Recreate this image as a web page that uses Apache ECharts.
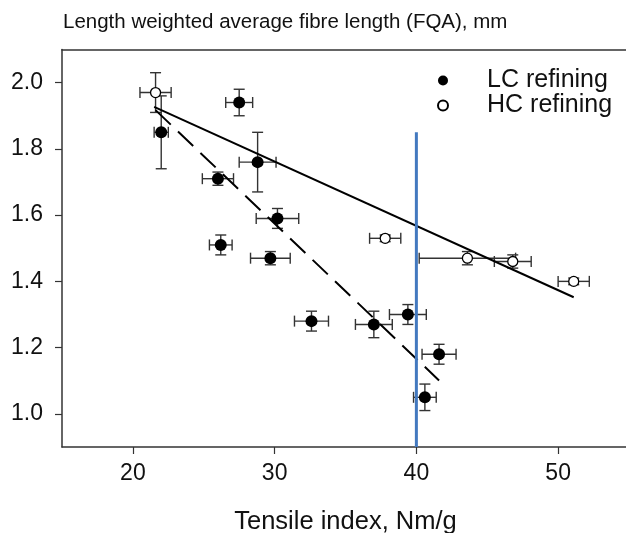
<!DOCTYPE html>
<html>
<head>
<meta charset="utf-8">
<script src="https://cdn.jsdelivr.net/npm/echarts@6/dist/echarts.min.js"></script>
<style>
  html, body { margin: 0; padding: 0; background: #fff; }
  #chart { width: 626px; height: 533px; }
</style>
</head>
<body>
<div id="chart"></div>
<script>
// ---- Data ----
const lcX    = [22.0, 27.5, 28.8, 26.0, 30.2, 26.2, 29.7, 32.6, 37.0, 39.4, 41.6, 40.6];
const lcY    = [1.85, 1.94, 1.76, 1.71, 1.59, 1.51, 1.47, 1.28, 1.27, 1.30, 1.18, 1.05];
const lcXErr = [0.5, 0.95, 1.3, 1.1, 1.5, 0.8, 1.4, 1.2, 1.3, 1.3, 1.2, 0.8];
const lcYErr = [0.11, 0.04, 0.09, 0.02, 0.03, 0.03, 0.02, 0.03, 0.04, 0.03, 0.03, 0.04];

const hcX    = [21.6, 37.8, 43.6, 46.8, 51.1];
const hcY    = [1.97, 1.53, 1.47, 1.46, 1.40];
const hcXErr = [1.1, 1.1, 3.4, 1.3, 1.1];
const hcYErr = [0.06, 0.01, 0.02, 0.02, 0.01];

const solidX  = [21.5, 51.1];
const solidY  = [1.927, 1.352];
const dashedX = [21.6, 41.6];
const dashedY = [1.917, 1.101];
const refX    = [40, 40];
const refY    = [0.9, 1.85];

const xTicks = [20, 30, 40, 50];
const yTicks = [1.0, 1.2, 1.4, 1.6, 1.8, 2.0];

const seriesNames = ['LC refining', 'HC refining'];
const titleText = 'Length weighted average fibre length (FQA), mm';
const xAxisName = 'Tensile index, Nm/g';

// ---- Helpers ----
const zip = (a, b) => a.map((v, i) => [v, b[i]]);
const errData = (x, y, ex, ey) => x.map((v, i) => [v, y[i], ex[i], ey[i]]);
const FONT = '"Liberation Sans", Arial, sans-serif';
const TXT = '#111';
const BAR = '#333';

function errRender(params, api) {
  const x = api.value(0), y = api.value(1), dx = api.value(2), dy = api.value(3);
  const l = api.coord([x - dx, y]), r = api.coord([x + dx, y]);
  const t = api.coord([x, y + dy]), b = api.coord([x, y - dy]);
  const cap = 5.5;
  const st = { stroke: BAR, lineWidth: 1.4 };
  const line = (x1, y1, x2, y2) => ({ type: 'line', shape: { x1, y1, x2, y2 }, style: st });
  return {
    type: 'group',
    children: [
      line(l[0], l[1], r[0], r[1]),
      line(l[0], l[1] - cap, l[0], l[1] + cap),
      line(r[0], r[1] - cap, r[0], r[1] + cap),
      line(t[0], t[1], b[0], b[1]),
      line(t[0] - cap, t[1], t[0] + cap, t[1]),
      line(b[0] - cap, b[1], b[0] + cap, b[1])
    ]
  };
}

const chart = echarts.init(document.getElementById('chart'), null, { renderer: 'canvas' });

chart.setOption({
  animation: false,
  backgroundColor: '#fff',
  textStyle: { fontFamily: FONT },
  title: {
    text: titleText,
    left: 58, top: 7,
    textStyle: { fontFamily: FONT, fontSize: 20.5, fontWeight: 'normal', color: TXT }
  },
  legend: {
    orient: 'vertical',
    left: 432, top: 63,
    itemWidth: 78, itemHeight: 10, itemGap: 0,
    data: seriesNames,
    textStyle: { fontFamily: FONT, fontSize: 25, color: TXT }
  },
  grid: { left: 62, right: -3, top: 49.5, bottom: 86, containLabel: false, outerBoundsMode: 'none' },
  xAxis: [{
    type: 'value', min: 15, max: 55, position: 'bottom',
    name: xAxisName, nameLocation: 'middle', nameGap: 62,
    nameTextStyle: { fontFamily: FONT, fontSize: 25.5, color: TXT },
    axisLine: { show: true, onZero: false, lineStyle: { color: BAR, width: 1.5 } },
    axisTick: { show: true, inside: false, length: 7, customValues: xTicks, lineStyle: { color: BAR, width: 1.2 } },
    axisLabel: { customValues: xTicks, margin: 15, fontFamily: FONT, fontSize: 23, color: TXT },
    splitLine: { show: false }
  }, {
    type: 'value', min: 15, max: 55, position: 'top',
    axisLine: { show: true, onZero: false, lineStyle: { color: BAR, width: 1.5 } },
    axisTick: { show: false }, axisLabel: { show: false }, splitLine: { show: false }
  }],
  yAxis: {
    type: 'value', min: 0.9, max: 2.1,
    axisLine: { show: true, onZero: false, lineStyle: { color: BAR, width: 1.5 } },
    axisTick: { show: true, inside: false, length: 7, customValues: yTicks, lineStyle: { color: BAR, width: 1.2 } },
    axisLabel: { customValues: yTicks, margin: 19, fontFamily: FONT, fontSize: 23, color: TXT,
                 formatter: v => v.toFixed(1) },
    splitLine: { show: false }
  },
  series: [
    { type: 'custom', name: 'LC err', renderItem: errRender, data: errData(lcX, lcY, lcXErr, lcYErr),
      encode: { x: 0, y: 1 }, z: 2, silent: true },
    { type: 'custom', name: 'HC err', renderItem: errRender, data: errData(hcX, hcY, hcXErr, hcYErr),
      encode: { x: 0, y: 1 }, z: 2, silent: true },
    { type: 'scatter', name: seriesNames[0], data: zip(lcX, lcY), symbol: 'circle', symbolSize: 12,
      itemStyle: { color: '#000', opacity: 1 }, z: 3 },
    { type: 'scatter', name: seriesNames[1], data: zip(hcX, hcY), symbol: 'circle', symbolSize: 10,
      itemStyle: { color: '#fff', borderColor: '#000', borderWidth: 1.3, opacity: 1 }, z: 3 },
    { type: 'line', name: 'HC fit', data: zip(solidX, solidY), showSymbol: false, symbol: 'none',
      lineStyle: { color: '#000', width: 2 }, z: 4, silent: true },
    { type: 'line', name: 'LC fit', data: zip(dashedX, dashedY), showSymbol: false, symbol: 'none',
      lineStyle: { color: '#000', width: 2, type: [21, 10] }, z: 4, silent: true },
    { type: 'line', name: 'ref', data: zip(refX, refY), showSymbol: false, symbol: 'none',
      lineStyle: { color: '#4379BF', width: 3 }, z: 5, silent: true }
  ]
});
</script>
</body>
</html>
